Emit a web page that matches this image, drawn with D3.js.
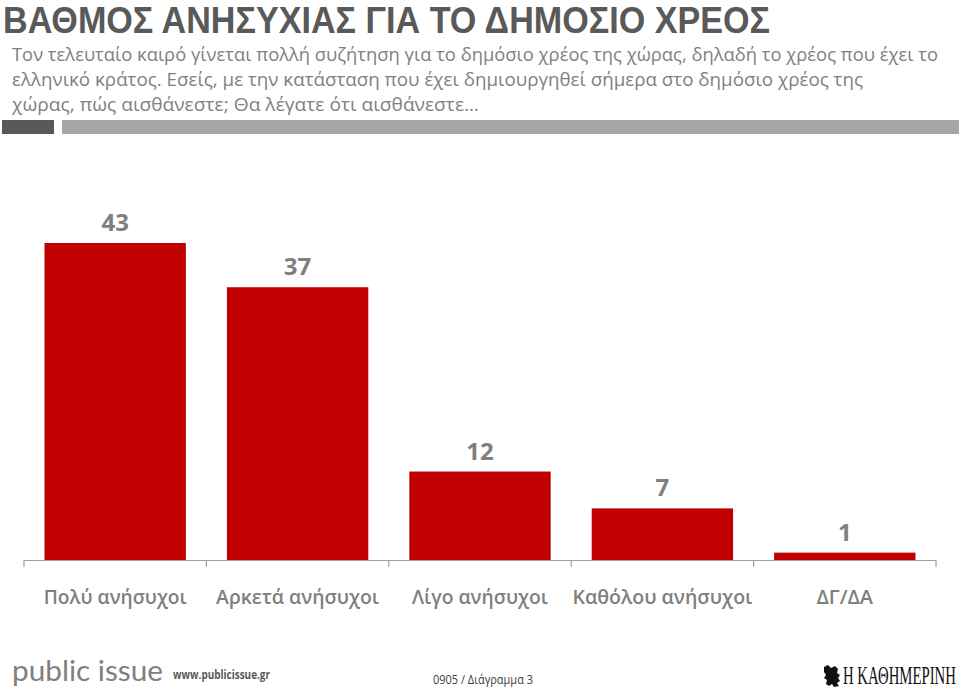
<!DOCTYPE html>
<html><head><meta charset="utf-8">
<script src="https://cdn.jsdelivr.net/npm/d3@7/dist/d3.min.js"></script>
<style>body{margin:0;background:#fff}svg{display:block}</style>
</head><body>
<script>
const categories = ["Πολύ ανήσυχοι","Αρκετά ανήσυχοι","Λίγο ανήσυχοι","Καθόλου ανήσυχοι","ΔΓ/ΔΑ"];
const values = [43,37,12,7,1];
const title = "ΒΑΘΜΟΣ ΑΝΗΣΥΧΙΑΣ ΓΙΑ ΤΟ ΔΗΜΟΣΙΟ ΧΡΕΟΣ";
const subtitleLines = [
 "Τον τελευταίο καιρό γίνεται πολλή συζήτηση για το δημόσιο χρέος της χώρας, δηλαδή το χρέος που έχει το",
 "ελληνικό κράτος. Εσείς, με την κατάσταση που έχει δημιουργηθεί σήμερα στο δημόσιο χρέος της",
 "χώρας, πώς αισθάνεστε; Θα λέγατε ότι αισθάνεστε…"
];

const W=959,H=689;
const svg=d3.select("body").append("svg").attr("width",W).attr("height",H);
const F="'Open Sans','Noto Sans',sans-serif";

function fit(sel,target,always){
  const n=sel.node(); const w=n.getComputedTextLength();
  if(always || w>target) sel.attr("textLength",target).attr("lengthAdjust","spacingAndGlyphs");
}

// title
const t=svg.append("text").attr("x",3).attr("y",33).attr("font-family","'Liberation Sans',Arial,sans-serif").attr("font-weight",700)
 .attr("font-size",36.5).attr("fill","#595959").text(title);
fit(t,767,true);

const subW=[926,851,467];
subtitleLines.forEach((s,i)=>{
  const e=svg.append("text").attr("x",12).attr("y",60.8+i*25).attr("font-family",F)
   .attr("font-size",18.5).attr("fill","#7f7f7f").text(s);
  fit(e,subW[i],true);
});

svg.append("rect").attr("x",2).attr("y",120).attr("width",52).attr("height",14).attr("fill","#595959");
svg.append("rect").attr("x",62).attr("y",120).attr("width",897).attr("height",14).attr("fill","#a6a6a6");

// chart
const x=d3.scaleBand().domain(categories).range([24,936]).paddingInner(0.225).paddingOuter(0.1125);
const y=d3.scaleLinear().domain([0,43]).range([560,243]);

svg.append("g").selectAll("rect").data(values).join("rect")
 .attr("x",(d,i)=>x(categories[i])).attr("width",x.bandwidth())
 .attr("y",d=>y(d)).attr("height",d=>y(0)-y(d)).attr("fill","#c00000");

svg.append("g").selectAll("text").data(values).join("text")
 .attr("x",(d,i)=>x(categories[i])+x.bandwidth()/2).attr("y",d=>y(d)-12)
 .attr("text-anchor","middle").attr("font-family",F).attr("font-weight",700)
 .attr("font-size",24).attr("fill","#7f7f7f").text(d=>d);

// axis
const step=x.step();
const ax=svg.append("g").attr("stroke","#a0a0a0").attr("stroke-width",1.2);
ax.append("line").attr("x1",24).attr("x2",936).attr("y1",y(0)+0.5).attr("y2",y(0)+0.5);
d3.range(categories.length+1).forEach(i=>{
  const xx=24+i*step;
  ax.append("line").attr("x1",xx).attr("x2",xx).attr("y1",y(0)).attr("y2",y(0)+7);
});

const labW=[143,163,136,180,58];
categories.forEach((c,i)=>{
  const e=svg.append("text").attr("x",x(c)+x.bandwidth()/2).attr("y",604).attr("text-anchor","middle")
   .attr("font-family",F).attr("font-weight",600).attr("font-size",20).attr("fill","#7f7f7f").text(c);
  fit(e,labW[i]);
});

// footer
const pi=svg.append("text").attr("x",12).attr("y",681).attr("font-family","Lato,'Open Sans',sans-serif")
 .attr("font-size",28).attr("fill","#808080").text("public issue");
fit(pi,151,true);
const ww=svg.append("text").attr("x",173).attr("y",679).attr("font-family",F).attr("font-weight",700)
 .attr("font-size",12).attr("fill","#595959").text("www.publicissue.gr");
fit(ww,97);
const dg=svg.append("text").attr("x",433).attr("y",684).attr("font-family",F)
 .attr("font-size",12).attr("fill","#404040").text("0905 / Διάγραμμα 3");
fit(dg,100);

// logo
svg.append("path").attr("fill","#111")
 .attr("d","M824,667 l4,-2 l3,3 l4,-2 l3,3 l-1,4 l3,2 l-2,3 l2,3 l-3,2 l2,3 l-5,1 l-2,-3 l-3,2 l-3,-2 l1,-4 l-3,-2 l2,-3 l-2,-3 z");
const lgG=svg.append("g");
const lg=lgG.append("text").attr("x",0).attr("y",0).attr("font-family","'Liberation Serif','DejaVu Serif',serif")
 .attr("font-size",25).attr("fill","#111").text("Η ΚΑΘΗΜΕΡΙΝΗ");
const lw=lg.node().getComputedTextLength();
lgG.attr("transform",`translate(843,683.5) scale(${113/lw},1)`);
</script>
</body></html>
